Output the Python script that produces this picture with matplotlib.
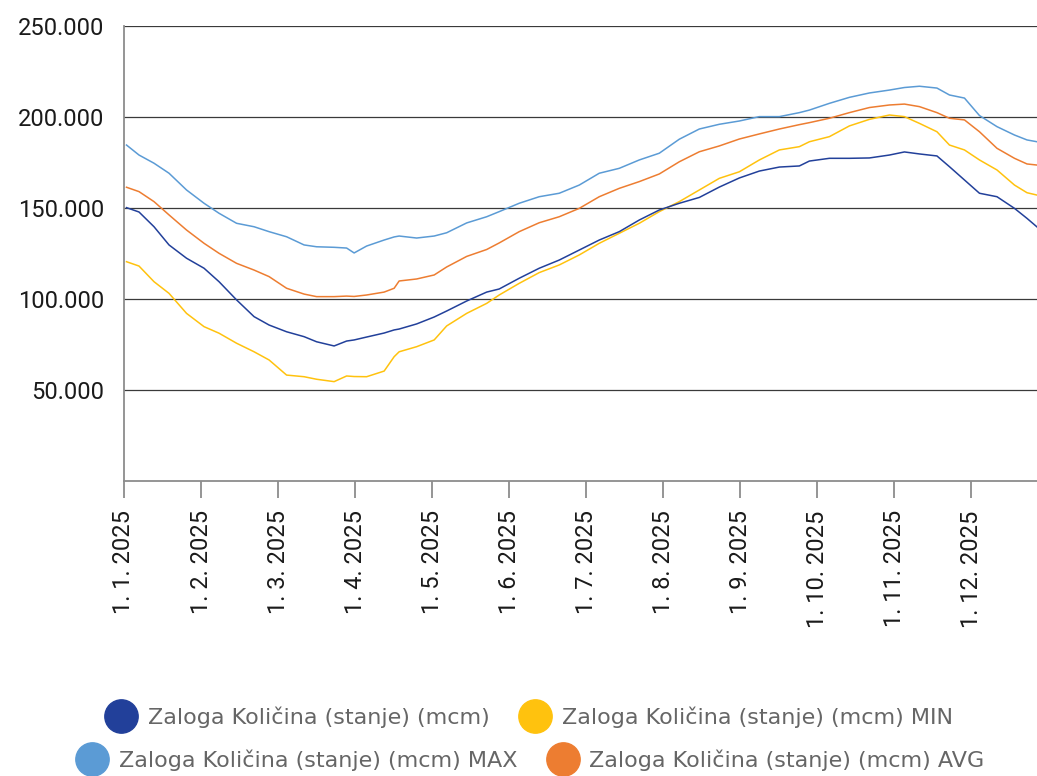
import matplotlib.pyplot as plt
from matplotlib.lines import Line2D
from matplotlib.ticker import FuncFormatter

plt.rcParams['font.family'] = ['Roboto', 'DejaVu Sans']

# day index (0 = 1. 1. 2025), values in thousand mcm
days = [1, 6, 12, 18, 25, 32, 38, 45, 52, 58, 65, 72, 77, 84, 89, 92, 97, 104, 108,
        110, 117, 124, 129, 137, 145, 150, 158, 166, 174, 182, 190, 198, 206, 214,
        222, 230, 238, 246, 254, 262, 270, 274, 282, 290, 298, 306, 312, 318, 325,
        330, 336, 342, 349, 356, 361, 365]

zaloga = [150.2, 147.8, 139.7, 129.7, 122.4, 116.9, 109.5, 99.5, 90.3, 85.7, 82.0,
          79.3, 76.5, 74.2, 76.9, 77.5, 79.1, 81.3, 83.0, 83.5, 86.3, 90.1, 93.4,
          98.9, 103.8, 105.5, 111.4, 116.9, 121.4, 126.9, 132.4, 137.0, 143.4, 148.9,
          152.6, 155.8, 161.5, 166.5, 170.3, 172.5, 173.1, 175.8, 177.3, 177.3, 177.5,
          179.1, 180.8, 179.7, 178.6, 172.7, 165.4, 158.1, 156.2, 149.8, 144.3, 139.6]

zaloga_min = [120.5, 118.1, 109.5, 103.1, 92.1, 84.8, 81.2, 75.7, 71.0, 66.5, 58.2,
              57.3, 55.9, 54.6, 57.7, 57.4, 57.3, 60.4, 68.3, 71.0, 73.8, 77.5, 85.2,
              92.1, 97.6, 102.2, 108.6, 114.5, 118.7, 124.2, 130.6, 136.1, 141.6, 148.0,
              153.5, 159.9, 166.3, 169.9, 176.4, 181.9, 183.7, 186.4, 189.2, 195.1, 198.7,
              201.1, 200.2, 196.5, 191.9, 184.6, 181.9, 176.4, 170.9, 162.6, 158.4, 157.1]

zaloga_max = [184.6, 179.1, 174.6, 169.1, 159.9, 152.6, 147.1, 141.6, 139.7, 137.0, 134.2,
              129.7, 128.7, 128.4, 128.0, 125.3, 129.1, 132.4, 134.1, 134.6, 133.5, 134.6,
              136.4, 141.8, 145.2, 148.0, 152.6, 156.2, 158.1, 162.6, 169.1, 171.8, 176.4,
              180.1, 187.8, 193.4, 196.0, 197.8, 200.2, 200.2, 202.4, 203.8, 207.5, 210.8,
              213.2, 214.8, 216.2, 216.9, 215.9, 212.1, 210.4, 200.8, 194.7, 190.1, 187.4,
              186.4]

zaloga_avg = [161.4, 159.0, 153.5, 146.2, 137.9, 130.6, 125.1, 119.6, 115.9, 112.3, 105.9,
              102.7, 101.3, 101.3, 101.6, 101.4, 102.2, 103.8, 105.9, 109.9, 111.0, 113.2,
              117.6, 123.4, 127.2, 130.8, 137.0, 141.9, 145.2, 149.8, 156.2, 160.8, 164.5,
              168.7, 175.4, 180.9, 184.1, 187.9, 190.7, 193.4, 195.8, 196.9, 199.3, 202.4,
              205.2, 206.6, 207.1, 205.7, 202.4, 199.3, 198.4, 191.9, 182.8, 177.3, 174.2,
              173.6]

tick_labels = ['1. 1. 2025', '1. 2. 2025', '1. 3. 2025', '1. 4. 2025', '1. 5. 2025',
               '1. 6. 2025', '1. 7. 2025', '1. 8. 2025', '1. 9. 2025', '1. 10. 2025',
               '1. 11. 2025', '1. 12. 2025']

names = ['Zaloga Količina (stanje) (mcm)', 'Zaloga Količina (stanje) (mcm) MIN',
         'Zaloga Količina (stanje) (mcm) MAX', 'Zaloga Količina (stanje) (mcm) AVG']
colors = ['#22409a', '#ffc20e', '#5b9bd5', '#ed7d31']

fig = plt.figure(figsize=(10.37, 7.76), dpi=100)
ax = fig.add_axes([124 / 1037, 1 - 481 / 776, 913 / 1037, 455 / 776])

series = [zaloga, zaloga_min, zaloga_max, zaloga_avg]
# draw order: max, avg, min, actual on top
for idx in [2, 3, 1, 0]:
    ax.plot(days, [v * 1000 for v in series[idx]], color=colors[idx], lw=1.1)

ax.set_xlim(0, 365)
ax.set_ylim(0, 250000)
ax.set_yticks([50000, 100000, 150000, 200000, 250000])
ax.yaxis.set_major_formatter(FuncFormatter(lambda v, p: f'{int(v):,}'.replace(',', '.')))
ax.set_xticks([k * 30.8 for k in range(12)])
ax.set_xticklabels(tick_labels, rotation=90)

ax.grid(axis='y', color='#3a3a3a', lw=0.9)
ax.set_axisbelow(True)
for s in ['top', 'right']:
    ax.spines[s].set_visible(False)
ax.spines['left'].set_color('#8c8c8c')
ax.spines['bottom'].set_color('#8c8c8c')
ax.spines['left'].set_linewidth(1.3)
ax.spines['bottom'].set_linewidth(1.3)

ax.tick_params(axis='y', length=0, pad=14, labelsize=17, labelcolor='#1a1a1a')
ax.tick_params(axis='x', length=12, width=1.3, color='#8c8c8c', pad=9,
               labelsize=17, labelcolor='#1a1a1a')

handles = [Line2D([], [], ls='none', marker='o', markersize=24, color=c) for c in colors]
leg_kw = dict(ncol=2, frameon=False, labelcolor='#666666',
              prop={'family': ['DejaVu Sans'], 'size': 16},
              handlelength=1.3, handletextpad=0.55, columnspacing=1.4, loc='center')
leg1 = fig.legend(handles[:2], names[:2], bbox_to_anchor=(530 / 1037, 1 - 717 / 776), **leg_kw)
fig.legend(handles[2:], names[2:], bbox_to_anchor=(531 / 1037, 1 - 760 / 776), **leg_kw)

fig.savefig('out.png', dpi=100)
